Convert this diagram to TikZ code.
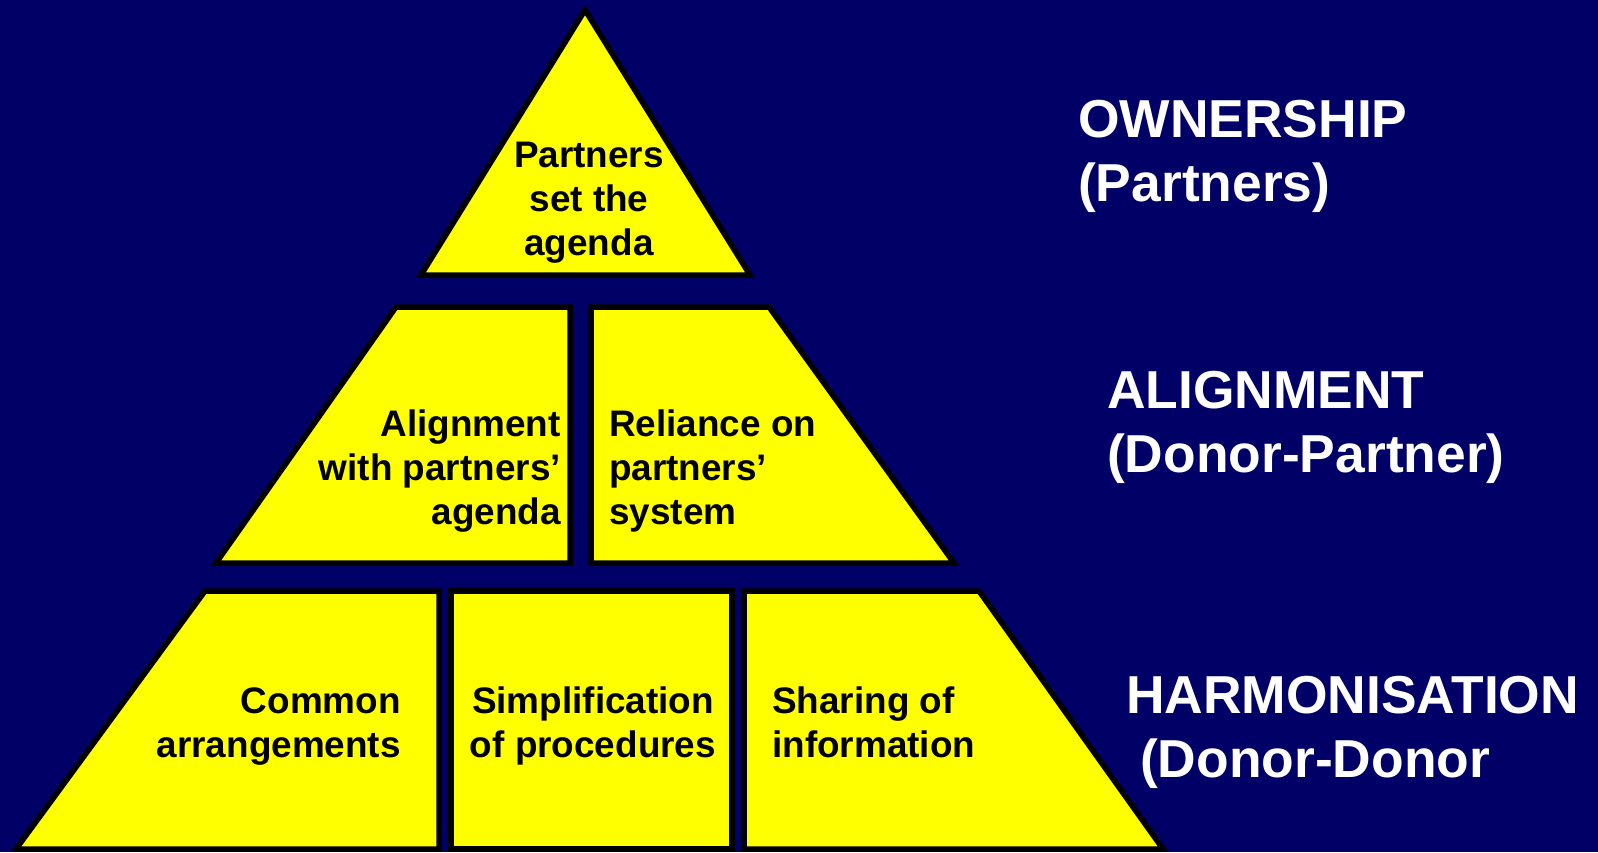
\documentclass[tikz,border=0pt]{standalone}
\usepackage{fontspec}
\setmainfont{Liberation Sans}
\definecolor{navybg}{RGB}{0,0,102}
\definecolor{tieryellow}{RGB}{255,255,0}
\newcommand\boxfont{\fontsize{36.9}{44}\selectfont\bfseries}
\newcommand\lblfont{\fontsize{53.4}{64}\selectfont\bfseries}
\begin{document}
\begin{tikzpicture}[x=1pt,y=-1pt,
  tier/.style={draw=black, fill=tieryellow, line width=5.5pt, line join=miter},
  boxtxt/.style={font=\boxfont, text=black, inner sep=0pt},
  lbl/.style={font=\lblfont, text=white, inner sep=0pt}]
\fill[navybg] (0,0) rectangle (1598,852);
\useasboundingbox (0,0) rectangle (1598,852);
% top tier
\draw[tier] (585,10) -- (750,275) -- (421,275) -- cycle;
% middle tier
\draw[tier] (396,307) -- (570,307) -- (570,563) -- (216,563) -- cycle;
\draw[tier] (591,307) -- (769,307) -- (954,563) -- (591,563) -- cycle;
% bottom tier
\draw[tier] (205,591) -- (439,591) -- (439,849) -- (16,849) -- cycle;
\draw[tier] (451,591) -- (732,591) -- (732,849) -- (451,849) -- cycle;
\draw[tier] (744,591) -- (979,591) -- (1163,849) -- (744,849) -- cycle;
% box texts
\node[boxtxt, anchor=base] (tset) at (589,167)
  {\begin{tabular}[t]{@{}c@{}}Partners\\set the\\agenda\end{tabular}};
\node[boxtxt, anchor=base east] (talign) at (561,436)
  {\begin{tabular}[t]{@{}r@{}}Alignment\\with partners’\\agenda\end{tabular}};
\node[boxtxt, anchor=base west] (trely) at (609,436)
  {\begin{tabular}[t]{@{}l@{}}Reliance on\\partners’\\system\end{tabular}};
\node[boxtxt, anchor=base east] (tcommon) at (401,713)
  {\begin{tabular}[t]{@{}r@{}}Common\\arrangements\end{tabular}};
\node[boxtxt, anchor=base] (tsimpl) at (593,713)
  {\begin{tabular}[t]{@{}c@{}}Simplification\\of procedures\end{tabular}};
\node[boxtxt, anchor=base west] (tshare) at (772,713)
  {\begin{tabular}[t]{@{}l@{}}Sharing of\\information\end{tabular}};
% right labels
\node[lbl, anchor=base west] (lown) at (1078,137)
  {\begin{tabular}[t]{@{}l@{}}OWNERSHIP\\(Partners)\end{tabular}};
\node[lbl, anchor=base west] (lali) at (1107,408)
  {\begin{tabular}[t]{@{}l@{}}ALIGNMENT\\(Donor-Partner)\end{tabular}};
\node[lbl, anchor=base west] (lharm) at (1126,713)
  {\begin{tabular}[t]{@{}l@{}}HARMONISATION\\\hspace*{14pt}(Donor-Donor\end{tabular}};
\end{tikzpicture}
\end{document}
